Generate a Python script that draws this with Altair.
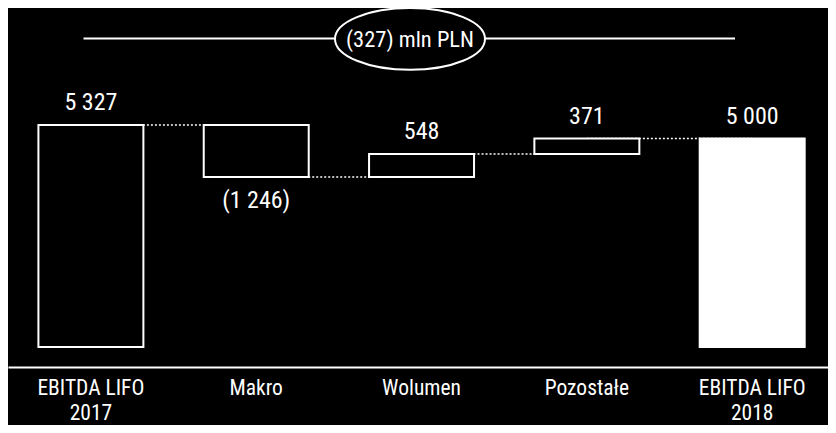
import altair as alt
import pandas as pd

categories = ["EBITDA LIFO 2017", "Makro", "Wolumen", "Pozostałe", "EBITDA LIFO 2018"]
values = [5327, -1246, 548, 371, 5000]
kinds = ["total", "delta", "delta", "delta", "total"]
unit = "mln PLN"

FONT = "Roboto Condensed, Liberation Sans Narrow, Arial Narrow, sans-serif"
WEIGHT = 400


def fmt(v):
    s = f"{abs(v):,}".replace(",", " ")
    return f"({s})" if v < 0 else s


rows = []
running = 0
for i, (c, v, k) in enumerate(zip(categories, values, kinds)):
    if k == "total":
        start, end = 0, v
        running = v
    else:
        start, end = running, running + v
        running = end
    rows.append(dict(cat=c, start=start, end=end, top=max(start, end), bottom=min(start, end),
                     label=fmt(v), neg=v < 0, fill="#ffffff" if i == len(categories) - 1 else "#000000"))
df = pd.DataFrame(rows)

conn = pd.DataFrame([
    dict(cat=categories[i], cat2=categories[i + 1], level=rows[i]["end"])
    for i in range(len(categories) - 1)
])

note = pd.DataFrame([dict(text=f"{fmt(values[-1] - values[0])} {unit}")])

xscale = alt.Scale(domain=categories, paddingInner=0.365, paddingOuter=0.1625, align=0.566)
yscale = alt.Scale(domain=[-477, 8130], nice=False, zero=False)

xaxis = alt.Axis(
    title=None, ticks=False, grid=False, domain=True, domainColor="#ffffff", domainWidth=2,
    labelColor="#ffffff", labelFont=FONT, labelFontSize=21.5, labelFontWeight=WEIGHT,
    labelPadding=10, labelAngle=0, labelLineHeight=25.5, labelBaseline="top",
    labelExpr="test(/ \\d{4}$/, datum.label) ? [substring(datum.label, 0, length(datum.label) - 5), substring(datum.label, length(datum.label) - 4)] : datum.label",
)

connectors = alt.Chart(conn).mark_rule(color="#ffffff", strokeWidth=1.5, strokeDash=[2, 2]).encode(
    x=alt.X("cat:N", scale=xscale, axis=xaxis, sort=categories),
    x2="cat2:N",
    y=alt.Y("level:Q", scale=yscale, axis=None),
)

bars = alt.Chart(df).mark_bar(stroke="#ffffff", strokeWidth=2).encode(
    x=alt.X("cat:N", scale=xscale, axis=xaxis, sort=categories),
    y=alt.Y("start:Q", scale=yscale, axis=None),
    y2="end:Q",
    fill=alt.Fill("fill:N", scale=None),
)

labels_up = alt.Chart(df).transform_filter("!datum.neg").mark_text(
    font=FONT, fontSize=24, fontWeight=WEIGHT, color="#ffffff", baseline="alphabetic", dy=-15
).encode(
    x=alt.X("cat:N", scale=xscale, axis=xaxis, sort=categories),
    y=alt.Y("top:Q", scale=yscale, axis=None),
    text="label:N",
)

labels_down = alt.Chart(df).transform_filter("datum.neg").mark_text(
    font=FONT, fontSize=24, fontWeight=WEIGHT, color="#ffffff", baseline="alphabetic", dy=31
).encode(
    x=alt.X("cat:N", scale=xscale, axis=xaxis, sort=categories),
    y=alt.Y("bottom:Q", scale=yscale, axis=None),
    text="label:N",
)

top_line = alt.Chart(note).mark_rule(color="#ffffff", strokeWidth=2).encode(
    x=alt.value(75.5), x2=alt.value(727), y=alt.value(30.4)
)

ellipse = alt.Chart(note).mark_point(
    shape="M-1,0A1,0.412,0,1,1,1,0A1,0.412,0,1,1,-1,0Z",
    filled=True, fill="#000000", stroke="#ffffff", strokeWidth=2, opacity=1, size=22500,
).encode(x=alt.value(402), y=alt.value(30.9))

note_text = alt.Chart(note).mark_text(
    font=FONT, fontSize=22.5, fontWeight=WEIGHT, color="#ffffff", baseline="middle", align="center", dy=1
).encode(x=alt.value(402), y=alt.value(30.9), text="text:N")

chart = alt.layer(connectors, bars, labels_up, labels_down, top_line, ellipse, note_text).properties(
    width=820, height=359,
    autosize=alt.AutoSizeParams(type="none"),
    padding={"left": 0, "top": 0, "right": 0, "bottom": 58},
    background="#000000",
).configure_view(stroke=None)

chart.save("out.html", embed_options={"renderer": "svg", "actions": False})
